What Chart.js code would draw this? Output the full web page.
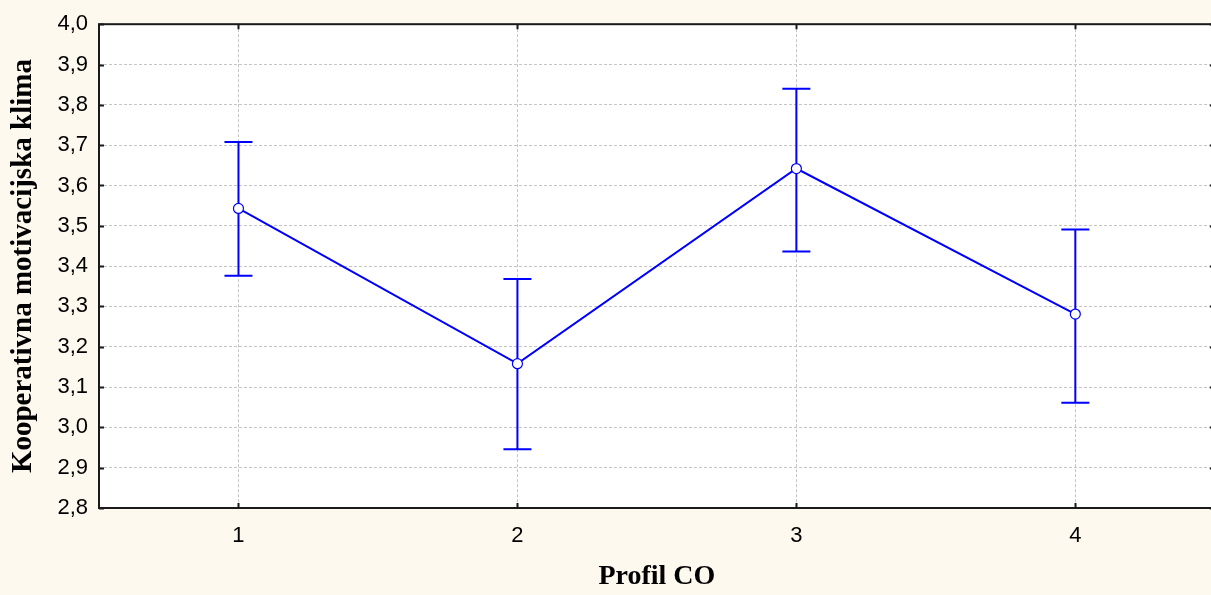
<!DOCTYPE html>
<html>
<head>
<meta charset="utf-8">
<script src="https://cdn.jsdelivr.net/npm/chart.js@4/dist/chart.umd.min.js"></script>
<style>
  html, body { margin: 0; padding: 0; background: #fef9ee; overflow: hidden; }
</style>
</head>
<body>
<canvas id="chart" width="1221" height="595"></canvas>
<script>
const profiles = ['1', '2', '3', '4']
const means = [3.543, 3.158, 3.642, 3.281]
const upper = [3.708, 3.368, 3.840, 3.491]
const lower = [3.376, 2.946, 3.436, 3.061]
const yTicks = [2.8, 2.9, 3.0, 3.1, 3.2, 3.3, 3.4, 3.5, 3.6, 3.7, 3.8, 3.9, 4.0]

const blue = '#0000ff'

// white plot area, black frame, inner tick marks and the error bars
const framePlugin = {
    id: 'frame',
    beforeDraw(chart) {
        const a = chart.chartArea
        const ctx = chart.ctx
        ctx.save()
        ctx.fillStyle = '#ffffff'
        ctx.fillRect(a.left, a.top, a.right - a.left, a.bottom - a.top)
        ctx.restore()
    },
    afterDatasetsDraw(chart) {
        const ctx = chart.ctx
        const x = chart.scales.x
        const y = chart.scales.y
        ctx.save()
        ctx.strokeStyle = blue
        ctx.lineWidth = 2
        for (let i = 0; i < profiles.length; i++) {
            const px = x.getPixelForValue(i)
            const top = y.getPixelForValue(upper[i])
            const bot = y.getPixelForValue(lower[i])
            const mid = y.getPixelForValue(means[i])
            ctx.beginPath()
            ctx.moveTo(px, top); ctx.lineTo(px, mid - 5)
            ctx.moveTo(px, mid + 5); ctx.lineTo(px, bot)
            ctx.moveTo(px - 14, top); ctx.lineTo(px + 14, top)
            ctx.moveTo(px - 14, bot); ctx.lineTo(px + 14, bot)
            ctx.stroke()
        }
        ctx.restore()
    },
    afterDraw(chart) {
        const a = chart.chartArea
        const ctx = chart.ctx
        const x = chart.scales.x
        const y = chart.scales.y
        ctx.save()
        ctx.strokeStyle = '#1a1a1a'
        ctx.lineWidth = 2
        ctx.beginPath()
        for (const v of yTicks) {
            const py = Math.round(y.getPixelForValue(v)) + 0.5
            ctx.moveTo(a.left, py); ctx.lineTo(a.left + 5, py)
            ctx.moveTo(a.right, py); ctx.lineTo(a.right - 5, py)
        }
        for (let i = 0; i < profiles.length; i++) {
            const px = Math.round(x.getPixelForValue(i)) + 0.5
            ctx.moveTo(px, a.top); ctx.lineTo(px, a.top + 5)
            ctx.moveTo(px, a.bottom); ctx.lineTo(px, a.bottom - 5)
        }
        ctx.stroke()
        ctx.strokeRect(a.left, a.top, a.right - a.left, a.bottom - a.top)
        ctx.restore()
    }
}

const chart = new Chart(
    document.getElementById('chart'),
    {
        type: 'line',
        data: {
            labels: profiles,
            datasets: [
                {
                    data: means,
                    borderColor: blue,
                    borderWidth: 2,
                    pointRadius: 5,
                    pointBorderWidth: 1.2,
                    pointBackgroundColor: '#ffffff',
                    pointBorderColor: blue,
                    tension: 0
                }
            ]
        },
        options: {
            responsive: false,
            animation: false,
            devicePixelRatio: 1,
            layout: { padding: { top: 20, right: 0, left: 0, bottom: 0 } },
            plugins: {
                legend: { display: false },
                tooltip: { enabled: false }
            },
            scales: {
                x: {
                    type: 'category',
                    offset: true,
                    grid: {
                        offset: false,
                        color: '#c4c4c4',
                        lineWidth: 1,
                        drawTicks: false
                    },
                    border: { display: false, dash: [3, 2] },
                    ticks: {
                        color: '#000',
                        padding: 15,
                        font: { family: 'Liberation Sans', size: 22 }
                    },
                    title: {
                        display: true,
                        text: 'Profil CO',
                        color: '#000',
                        padding: { top: 0, bottom: 1 },
                        font: { family: 'Liberation Serif', size: 28, weight: 'bold' }
                    },
                    afterFit(scale) { scale.height = 87 }
                },
                y: {
                    min: 2.8,
                    max: 4.0,
                    grid: {
                        color: '#c4c4c4',
                        lineWidth: 1,
                        drawTicks: false
                    },
                    border: { display: false, dash: [3, 2] },
                    afterBuildTicks(scale) {
                        scale.ticks = yTicks.map(v => ({ value: v }))
                    },
                    ticks: {
                        color: '#000',
                        padding: 11,
                        font: { family: 'Liberation Sans', size: 22 },
                        callback: v => v.toFixed(1).replace('.', ',')
                    },
                    title: {
                        display: true,
                        text: 'Kooperativna motivacijska klima',
                        color: '#000',
                        padding: { top: 6, bottom: 0 },
                        font: { family: 'Liberation Serif', size: 29, weight: 'bold' }
                    },
                    afterFit(scale) { scale.width = 99 }
                }
            }
        },
        plugins: [framePlugin]
    }
)
</script>
</body>
</html>
